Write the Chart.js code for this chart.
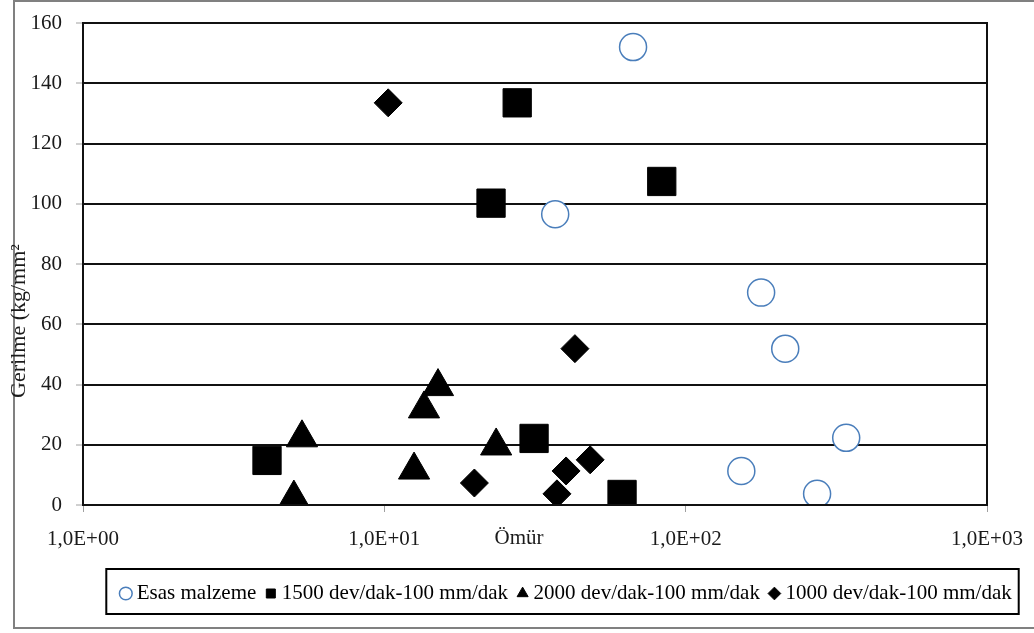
<!DOCTYPE html>
<html>
<head>
<meta charset="utf-8">
<script src="https://cdn.jsdelivr.net/npm/chart.js@4.4.1/dist/chart.umd.min.js"></script>
<style>
  html, body { margin: 0; padding: 0; background: #fff; }
  #wrap { width: 1034px; height: 633px; }
</style>
</head>
<body>
<div id="wrap"><canvas id="c" width="1034" height="633"></canvas></div>
<script>
// ---- data ----
const seriesNames = ['Esas malzeme', '1500 dev/dak-100 mm/dak', '2000 dev/dak-100 mm/dak', '1000 dev/dak-100 mm/dak'];

const esasX = [66.9, 36.9, 178, 214, 341, 153, 273];
const esasY = [152, 96.5, 70.5, 51.9, 22.3, 11.3, 3.7];

const rpm1500X = [4.08, 27.6, 22.6, 31.4, 83.3, 61.5];
const rpm1500Y = [14.8, 133.5, 100.2, 22.1, 107.4, 3.5];

const rpm2000X = [5.33, 5.01, 12.55, 13.54, 15.07, 23.5];
const rpm2000Y = [22.3, 2.3, 11.6, 31.9, 39.3, 19.6];

const rpm1000X = [10.3, 42.9, 19.9, 40.1, 48.2, 37.4];
const rpm1000Y = [133.5, 51.9, 7.3, 11.3, 15.0, 3.7];

const xTickValues = [1, 10, 100, 1000];
const xTickLabels = ['1,0E+00', '1,0E+01', '1,0E+02', '1,0E+03'];
const yTickMin = 0, yTickMax = 160, yTickStep = 20;

const xTitle = 'Ömür';
const yTitle = 'Gerilme (kg/mm²';

const pts = (xs, ys) => xs.map((x, i) => ({ x: x, y: ys[i] }));

const FONT = 'Liberation Serif';

const decor = {
  id: 'decor',
  afterLayout(chart) {
    const lg = chart.legend;
    lg.left += 75; lg.right += 75;
  },
  beforeDraw(chart) {
    const ctx = chart.ctx;
    ctx.save();
    ctx.strokeStyle = '#808080';
    ctx.lineWidth = 2;
    ctx.beginPath();
    ctx.moveTo(1040, 1); ctx.lineTo(14, 1); ctx.lineTo(14, 628); ctx.lineTo(1040, 628);
    ctx.stroke();
    ctx.restore();
  },
  afterDraw(chart) {
    const ctx = chart.ctx;
    const a = chart.chartArea;
    ctx.save();
    // plot frame
    ctx.strokeStyle = '#111';
    ctx.lineWidth = 2;
    ctx.strokeRect(a.left, a.top, a.right - a.left, a.bottom - a.top);
    // axis titles
    ctx.fillStyle = '#1a1a1a';
    ctx.font = '21px "' + FONT + '"';
    ctx.textAlign = 'center';
    ctx.textBaseline = 'middle';
    ctx.fillText(xTitle, (a.left + a.right) / 2 - 16, a.bottom + 33);
    ctx.save();
    ctx.font = '22px "' + FONT + '"';
    ctx.translate(19, (a.top + a.bottom) / 2 + 57);
    ctx.rotate(-Math.PI / 2);
    ctx.fillText(yTitle, 0, 0);
    ctx.restore();
    // legend frame
    const lg = chart.legend;
    const pad = lg.options.labels.padding;
    const lw = lg.lineWidths[0];
    const x0 = (lg.left + pad + lg.right - lw) / 2;
    const x1 = x0 + lw - pad;
    ctx.strokeStyle = '#000';
    ctx.lineWidth = 2;
    ctx.strokeRect(x0 - 19, lg.top, (x1 + 7) - (x0 - 19), 45);
    ctx.restore();
  }
};

new Chart(document.getElementById('c'), {
  type: 'scatter',
  data: {
    datasets: [
      { label: seriesNames[0], data: pts(esasX, esasY), pointStyle: 'circle', pointRadius: 13.5, pointHoverRadius: 13.5,
        borderColor: '#4a7ebb', backgroundColor: '#ffffff', borderWidth: 1.5 },
      { label: seriesNames[1], data: pts(rpm1500X, rpm1500Y), pointStyle: 'rect', pointRadius: 20, pointHoverRadius: 20,
        borderColor: '#000', backgroundColor: '#000', borderWidth: 1 },
      { label: seriesNames[2], data: pts(rpm2000X, rpm2000Y), pointStyle: 'triangle', pointRadius: 18, pointHoverRadius: 18,
        borderColor: '#000', backgroundColor: '#000', borderWidth: 1 },
      { label: seriesNames[3], data: pts(rpm1000X, rpm1000Y), pointStyle: 'rectRot', pointRadius: 14, pointHoverRadius: 14,
        borderColor: '#000', backgroundColor: '#000', borderWidth: 1 }
    ]
  },
  options: {
    responsive: false,
    animation: false,
    devicePixelRatio: 1,
    layout: { padding: { left: 0, right: 47, top: 23, bottom: 19 } },
    plugins: {
      tooltip: { enabled: false },
      legend: {
        position: 'bottom',
        labels: {
          usePointStyle: true,
          boxWidth: 1,
          boxHeight: 9,
          padding: 14,
          color: '#000',
          font: { family: FONT, size: 21 }
        }
      }
    },
    scales: {
      x: {
        type: 'logarithmic',
        min: 1, max: 1000,
        afterBuildTicks: (s) => { s.ticks = xTickValues.map(v => ({ value: v })); },
        afterFit: (s) => { s.height = 64; s.paddingLeft = 0; s.paddingRight = 0; },
        ticks: {
          autoSkip: false, maxRotation: 0, padding: 15,
          color: '#1a1a1a',
          font: { family: FONT, size: 21 },
          callback: (v) => { const i = xTickValues.indexOf(v); return i >= 0 ? xTickLabels[i] : ''; }
        },
        grid: { drawOnChartArea: false, tickLength: 7, color: '#a0a0a0', lineWidth: 1 },
        border: { display: false }
      },
      y: {
        min: yTickMin, max: yTickMax,
        afterFit: (s) => { s.width = 83; s.paddingTop = 0; s.paddingBottom = 0; },
        ticks: {
          stepSize: yTickStep, padding: 14,
          color: '#1a1a1a',
          font: { family: FONT, size: 21 }
        },
        grid: { color: '#111', lineWidth: 2, tickLength: 7, tickColor: '#a0a0a0', tickWidth: 1 },
        border: { display: true, color: '#111', width: 2 }
      }
    }
  },
  plugins: [decor]
});
</script>
</body>
</html>
